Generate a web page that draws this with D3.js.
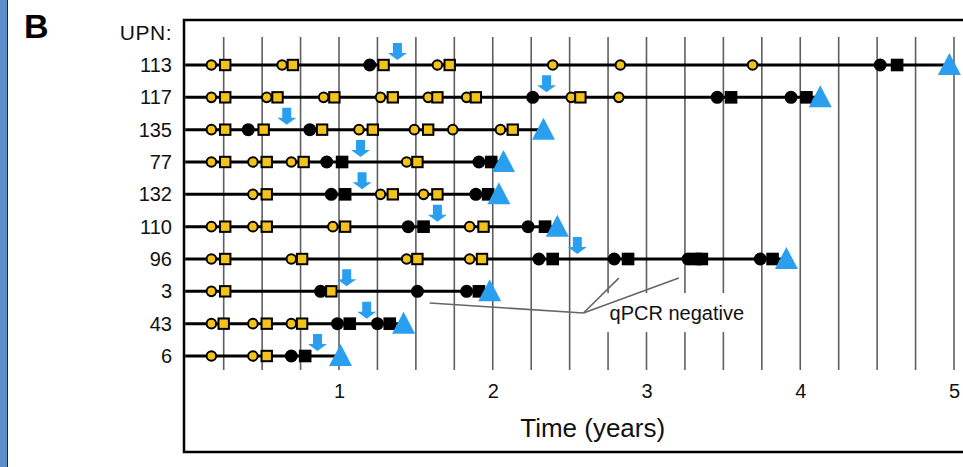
<!DOCTYPE html>
<html>
<head>
<meta charset="utf-8">
<script src="https://cdn.jsdelivr.net/npm/d3@7"></script>
<style>
  body { margin: 0; background: #fff; }
  svg { display: block; font-family: "Liberation Sans", Arial, Helvetica, sans-serif; }
</style>
</head>
<body>
<div class="chart"></div>
<script>
// UPN rows, top to bottom
const upn = ["113", "117", "135", "77", "132", "110", "96", "3", "43", "6"]
const xTicks = [1, 2, 3, 4, 5]
const gridTimes = d3.range(1, 21).map(i => i / 4)

// event times (years), one list per row in upn order
const yellowCircleTimes = [
  [0.17, 0.63, 1.64, 2.39, 2.83, 3.69],
  [0.17, 0.53, 0.90, 1.27, 1.58, 1.83, 2.51, 2.82],
  [0.17, 1.13, 1.49, 1.74, 2.05],
  [0.17, 0.44, 0.69, 1.44],
  [0.44, 1.27, 1.55],
  [0.17, 0.44, 0.96, 1.85],
  [0.17, 0.69, 1.44, 1.85],
  [0.17],
  [0.17, 0.44, 0.69],
  [0.17, 0.44],
]
const yellowSquareTimes = [
  [0.26, 0.70, 1.29, 1.72],
  [0.26, 0.60, 0.97, 1.35, 1.64, 1.89, 2.57],
  [0.26, 0.51, 0.89, 1.22, 1.58, 2.13],
  [0.26, 0.53, 0.77, 1.51],
  [0.53, 1.35, 1.64],
  [0.26, 0.53, 1.04, 1.94],
  [0.26, 0.76, 1.51, 1.93],
  [0.26, 0.95],
  [0.25, 0.53, 0.76],
  [0.53],
]
const blackCircleTimes = [
  [1.20, 4.52],
  [2.26, 3.46, 3.94],
  [0.41, 0.81],
  [0.92, 1.91],
  [0.95, 1.89],
  [1.45, 2.23],
  [2.30, 2.79, 3.27, 3.74],
  [0.88, 1.51, 1.83],
  [0.99, 1.25],
  [0.69],
]
const blackSquareTimes = [
  [4.63],
  [3.55, 4.04],
  [],
  [1.02, 1.99],
  [1.04, 1.97],
  [1.55, 2.34],
  [2.39, 2.88, 3.32, 3.36, 3.82],
  [1.91],
  [1.07, 1.33],
  [0.78],
]
const arrowTimes = [1.38, 2.35, 0.66, 1.14, 1.15, 1.64, 2.55, 1.05, 1.18, 0.86]
const triangleTimes = [4.97, 4.13, 2.33, 2.07, 2.04, 2.42, 3.91, 1.98, 1.42, 1.01]

// "qPCR negative" leader lines, in [time, row index] units
const leaderHub = [2.59, 7.67]
const leaderEnds = [[1.59, 7.36], [2.82, 6.59], [3.21, 6.59]]

const dimensions = {
  width: 963,
  height: 467,
  box: { left: 184, top: 20, bottom: 452 },
}

const yellow = "#f3c31a"
const blue = "#2a9ff0"

const wrapper = d3.select(".chart")
  .append("svg")
  .attr("width", dimensions.width)
  .attr("height", dimensions.height)

const xScale = d3.scaleLinear()
  .domain([0, 5])
  .range([185.25, 954])

const yScale = d3.scalePoint()
  .domain(upn)
  .range([65, 356])

const rowScale = d3.scaleLinear()
  .domain([0, upn.length - 1])
  .range(yScale.range())

// blue strip and panel letter
wrapper.append("rect")
  .attr("x", 0).attr("y", 0)
  .attr("width", 7).attr("height", dimensions.height)
  .attr("fill", "#5d8ecb")
wrapper.append("line")
  .attr("x1", 7.5).attr("x2", 7.5)
  .attr("y1", 0).attr("y2", dimensions.height)
  .attr("stroke", "#1c2a3c")
  .attr("stroke-width", 1)

wrapper.append("text")
  .attr("x", 24)
  .attr("y", 38)
  .style("font-size", "34px")
  .style("font-weight", "bold")
  .text("B")

// plot frame (open on the right, runs past the edge)
wrapper.append("path")
  .attr("d", `M${dimensions.width + 5},${dimensions.box.top} H${dimensions.box.left} V${dimensions.box.bottom} H${dimensions.width + 5}`)
  .attr("fill", "none")
  .attr("stroke", "#000")
  .attr("stroke-width", 2.5)

// quarter-year grid
wrapper.append("g")
  .selectAll("line")
  .data(gridTimes)
  .enter().append("line")
  .attr("x1", d => xScale(d))
  .attr("x2", d => xScale(d))
  .attr("y1", 37)
  .attr("y2", 370)
  .attr("stroke", "#5f5f5f")
  .attr("stroke-width", 1.6)

// white patch behind the annotation
const labelX = xScale(2.76)
const labelY = rowScale(7.89)
wrapper.append("rect")
  .attr("x", labelX - 10)
  .attr("y", labelY - 27)
  .attr("width", 154)
  .attr("height", 39)
  .attr("fill", "#fff")

wrapper.append("g")
  .selectAll("line")
  .data(leaderEnds)
  .enter().append("line")
  .attr("x1", xScale(leaderHub[0]))
  .attr("y1", rowScale(leaderHub[1]))
  .attr("x2", d => xScale(d[0]))
  .attr("y2", d => rowScale(d[1]))
  .attr("stroke", "#666")
  .attr("stroke-width", 1.6)

wrapper.append("text")
  .attr("x", labelX)
  .attr("y", labelY)
  .style("font-size", "20px")
  .attr("fill", "#111")
  .text("qPCR negative")

// row timelines
const rows = wrapper.append("g")
  .selectAll("g")
  .data(upn)
  .enter().append("g")
  .attr("transform", d => `translate(0, ${yScale(d)})`)

rows.append("line")
  .attr("x1", xScale(0))
  .attr("x2", (d, i) => xScale(triangleTimes[i]))
  .attr("stroke", "#000")
  .attr("stroke-width", 3)

rows.selectAll(".yc")
  .data((d, i) => yellowCircleTimes[i])
  .enter().append("circle")
  .attr("cx", d => xScale(d))
  .attr("r", 4.8)
  .attr("fill", yellow)
  .attr("stroke", "#000")
  .attr("stroke-width", 2)

rows.selectAll(".bc")
  .data((d, i) => blackCircleTimes[i])
  .enter().append("circle")
  .attr("cx", d => xScale(d))
  .attr("r", 6.5)
  .attr("fill", "#000")

rows.selectAll(".ys")
  .data((d, i) => yellowSquareTimes[i])
  .enter().append("rect")
  .attr("x", d => xScale(d) - 5.2)
  .attr("y", -5.2)
  .attr("width", 10.4)
  .attr("height", 10.4)
  .attr("fill", yellow)
  .attr("stroke", "#000")
  .attr("stroke-width", 2)

rows.selectAll(".bs")
  .data((d, i) => blackSquareTimes[i])
  .enter().append("rect")
  .attr("x", d => xScale(d) - 6.3)
  .attr("y", -6.3)
  .attr("width", 12.6)
  .attr("height", 12.6)
  .attr("fill", "#000")

rows.append("path")
  .attr("d", (d, i) => {
    const cx = xScale(triangleTimes[i])
    return `M${cx},-12 L${cx + 11.5},10 L${cx - 11.5},10 Z`
  })
  .attr("fill", blue)

rows.append("path")
  .attr("d", (d, i) => {
    const cx = xScale(arrowTimes[i])
    return `M${cx - 4.5},-22 H${cx + 4.5} V-12 H${cx + 9.5} L${cx},-5 L${cx - 9.5},-12 H${cx - 4.5} Z`
  })
  .attr("fill", blue)

// axes as labels only
const yAxisGenerator = d3.axisLeft()
  .scale(yScale)
  .tickSize(0)
  .tickPadding(12)

const yAxis = wrapper.append("g")
  .attr("transform", `translate(${dimensions.box.left}, 0)`)
  .call(yAxisGenerator)
yAxis.select(".domain").remove()
yAxis.selectAll("text")
  .attr("fill", "#111")
  .style("font-size", "20px")
  .style("font-family", "inherit")

yAxis.append("text")
  .attr("x", -12)
  .attr("y", 40)
  .attr("fill", "#111")
  .style("font-size", "21px")
  .style("letter-spacing", "0.5px")
  .style("text-anchor", "end")
  .text("UPN:")

const xAxisGenerator = d3.axisBottom()
  .scale(xScale)
  .tickValues(xTicks)
  .tickFormat(d3.format("d"))
  .tickSize(0)
  .tickPadding(8)

const xAxis = wrapper.append("g")
  .attr("transform", "translate(0, 376)")
  .call(xAxisGenerator)
xAxis.select(".domain").remove()
xAxis.selectAll("text")
  .attr("fill", "#111")
  .style("font-size", "20px")
  .style("font-family", "inherit")

xAxis.append("text")
  .attr("x", xScale(2.65))
  .attr("y", 61)
  .attr("fill", "#111")
  .style("font-size", "26px")
  .style("text-anchor", "middle")
  .text("Time (years)")
</script>
</body>
</html>
